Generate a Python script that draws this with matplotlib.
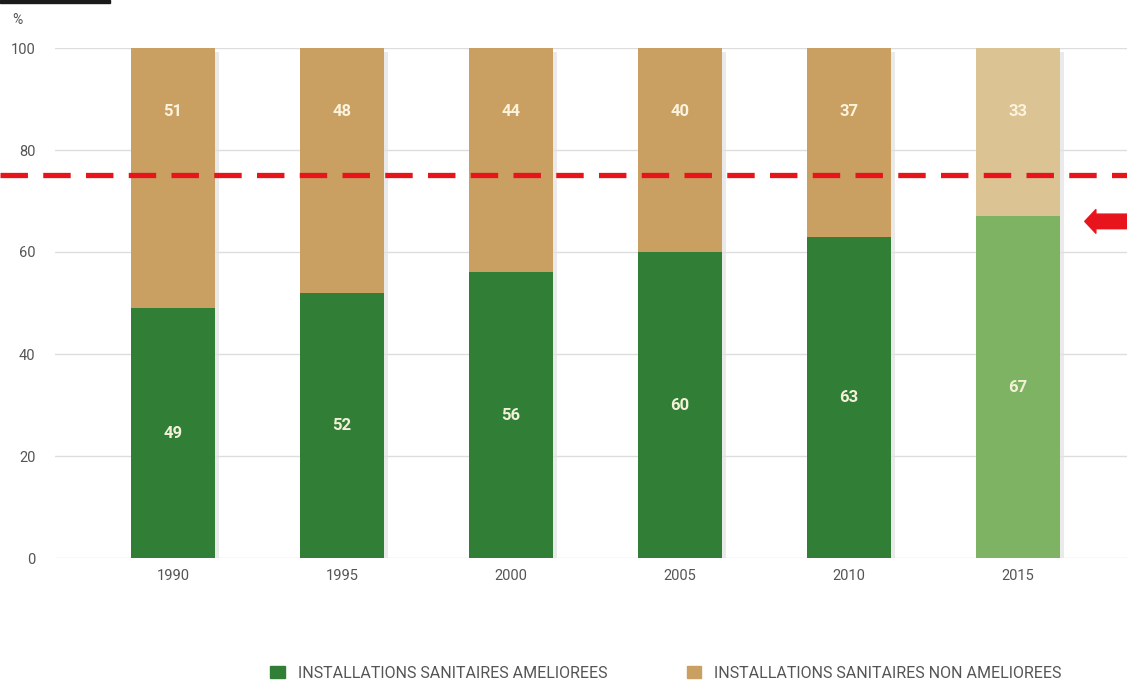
import matplotlib.pyplot as plt
import matplotlib.transforms as mtransforms
from matplotlib.patches import Rectangle, Patch
from matplotlib.lines import Line2D

# Données (%)
annees = ['1990', '1995', '2000', '2005', '2010', '2015']
ameliorees = [49, 52, 56, 60, 63, 67]
non_ameliorees = [51, 48, 44, 40, 37, 33]
cible = 75
niveau_fleche = 66

vert = ['#317f37'] * 5 + ['#7db362']
beige = ['#c9a062'] * 5 + ['#dcc393']

narrow = ['Liberation Sans Narrow', 'DejaVu Sans Condensed', 'Roboto', 'DejaVu Sans']

fig = plt.figure(figsize=(11.27, 6.82), dpi=100)
ax = fig.add_axes([55 / 1127, 124 / 682, 1 - 55 / 1127, 510 / 682])

x = list(range(len(annees)))
largeur = 0.5

# Ombres légères à droite des barres
for i in x:
    ax.bar(i + 0.025, 100, largeur, bottom=-0.8, color='#e2e2e2', alpha=0.7, zorder=1)

ax.bar(x, ameliorees, largeur, color=vert, zorder=2)
ax.bar(x, non_ameliorees, largeur, bottom=ameliorees, color=beige, zorder=2)

for i in x:
    ax.text(i, ameliorees[i] / 2, str(ameliorees[i]), ha='center', va='center',
            color='#f3f0d8', fontsize=12, fontweight='bold', family=narrow, zorder=3)
    ax.text(i, 87.5, str(non_ameliorees[i]), ha='center', va='center',
            color='#fbf3dc', fontsize=12, fontweight='bold', family=narrow, zorder=3)

ax.set_xlim(-0.698, 5.645)
ax.set_ylim(0, 100)
ax.set_xticks(x)
ax.set_xticklabels(annees)
ax.set_yticks([0, 20, 40, 60, 80, 100])
ax.tick_params(length=0, labelsize=10.5, colors='#555555')
ax.tick_params(axis='y', pad=14)
ax.tick_params(axis='x', pad=8)
for lab in ax.get_xticklabels() + ax.get_yticklabels():
    lab.set_family(narrow)
ax.grid(axis='y', color='#dddddd', linewidth=1, zorder=0)
ax.set_axisbelow(True)
for s in ax.spines.values():
    s.set_visible(False)

ax.text(-0.035, 1.055, '%', transform=ax.transAxes, ha='center', va='center',
        fontsize=10, color='#555555', family=narrow)

# Ligne cible pointillée rouge sur toute la largeur de la figure
trans = mtransforms.blended_transform_factory(fig.transFigure, ax.transData)
fig.add_artist(Line2D([0, 1], [cible, cible], transform=trans, color='#e8141b',
                      linewidth=3.8, linestyle=(0, (5.2, 2.9)), zorder=5))

# Flèche rouge
ax.annotate('', xy=(5.395, niveau_fleche), xytext=(5.70, niveau_fleche),
            xycoords='data', annotation_clip=False,
            arrowprops=dict(arrowstyle='simple,head_length=0.8,head_width=1.7,tail_width=1.05',
                            color='#e8141b', shrinkA=0, shrinkB=0))

# Barre noire en haut à gauche
fig.patches.append(Rectangle((0, 679 / 682), 110 / 1127, 3 / 682,
                             transform=fig.transFigure, color='#1a1a1a'))

# Légende
poignees = [Patch(color='#317f37'), Patch(color='#c9a062')]
fig.legend(poignees, ['INSTALLATIONS SANITAIRES AMELIOREES',
                      'INSTALLATIONS SANITAIRES NON AMELIOREES'],
           loc='center', bbox_to_anchor=(666 / 1127, 9 / 682), ncol=2, frameon=False,
           prop={'family': narrow, 'size': 11.5}, handlelength=0.9, handleheight=0.7,
           handletextpad=0.8, columnspacing=5.0, labelcolor='#555555')

fig.savefig('out.png', dpi=100)
